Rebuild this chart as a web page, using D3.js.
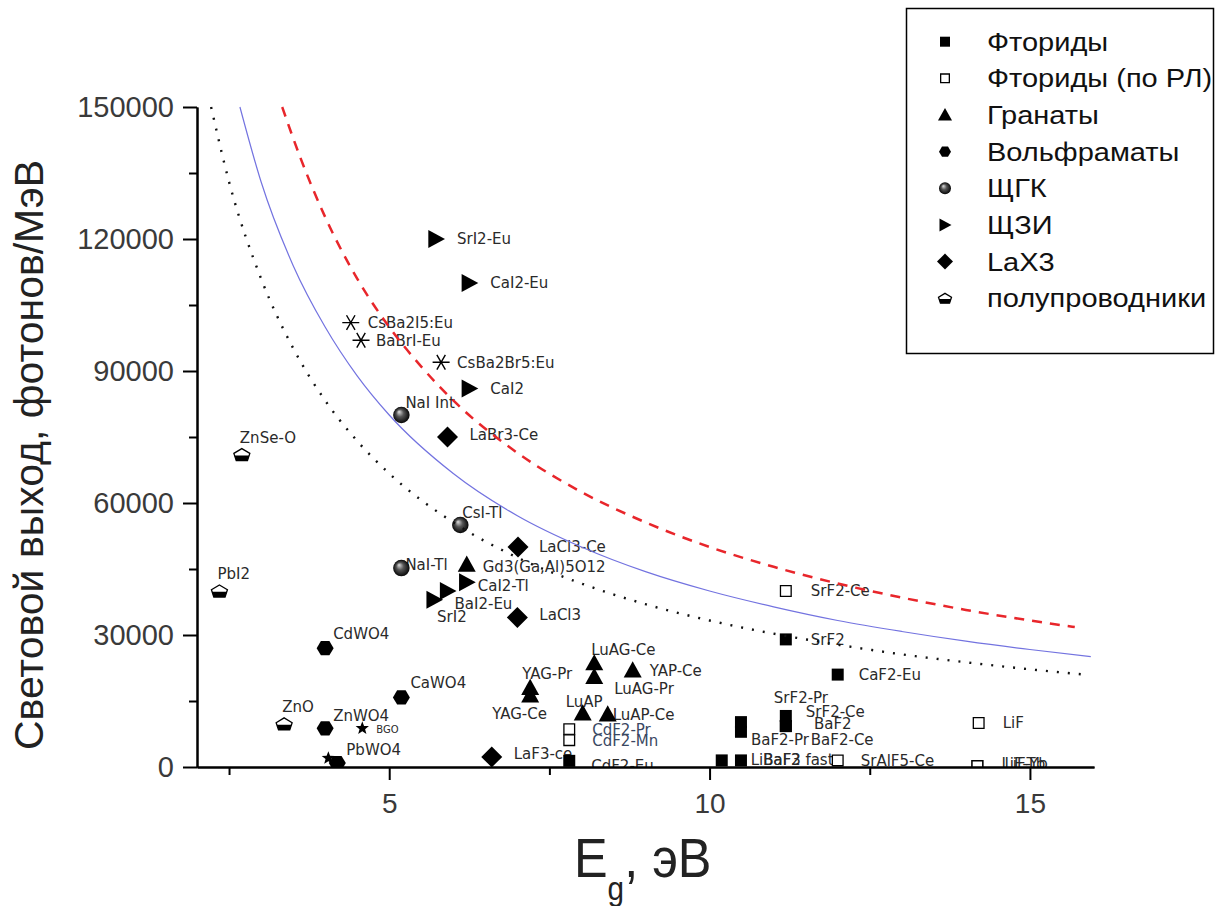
<!DOCTYPE html>
<html>
<head>
<meta charset="utf-8">
<script src="https://cdn.jsdelivr.net/npm/d3@7"></script>
<style>
  body { margin: 0; background: #fff; }
</style>
</head>
<body>
<div id="chart"></div>
<script>
// ---- data: [label, Eg (eV), light yield (photons/MeV)]
const fluorides = [
  ["SrF2", 11.19, 29000],
  ["CaF2-Eu", 12.0, 21000],
  ["SrF2-Pr", 11.19, 11600],
  ["SrF2-Ce", 11.19, 9300],
  ["BaF2-Ce", 11.19, 9300],
  ["BaF2", 10.49, 10200],
  ["BaF2-Pr", 10.49, 8000],
  ["LiBaF3", 10.19, 1500],
  ["BaF2 fast", 10.49, 1500],
  ["CdF2-Eu", 7.81, 1400]
];
const fluoridesRL = [
  ["SrF2-Ce", 11.19, 40000],
  ["CdF2-Pr", 7.81, 8600],
  ["CdF2-Mn", 7.81, 6100],
  ["SrAlF5-Ce", 12.0, 1500],
  ["LiF", 14.2, 10000],
  ["LiF-Tb", 14.18, 200],
  ["LiF-Yb", 14.18, 200]
];
const garnets = [
  ["Gd3(Ga,Al)5O12", 6.21, 46000],
  ["LuAG-Ce", 8.2, 23600],
  ["LuAG-Pr", 8.2, 20500],
  ["YAP-Ce", 8.8, 22000],
  ["YAG-Pr", 7.2, 18000],
  ["YAG-Ce", 7.2, 16300],
  ["LuAP", 8.02, 12200],
  ["LuAP-Ce", 8.41, 12000]
];
const tungstates = [
  ["CdWO4", 4.0, 27000],
  ["CaWO4", 5.19, 15800],
  ["ZnWO4", 4.0, 8800],
  ["PbWO4", 4.19, 900]
];
const alkaliHalides = [
  ["NaI Int", 5.19, 80000],
  ["CsI-Tl", 6.11, 55000],
  ["NaI-Tl", 5.19, 45200]
];
const earthIodides = [
  ["SrI2-Eu", 5.73, 120000],
  ["CaI2-Eu", 6.25, 110000],
  ["CaI2", 6.25, 86000],
  ["CaI2-Tl", 6.21, 42000],
  ["BaI2-Eu", 5.91, 40000],
  ["SrI2", 5.70, 38000]
];
const lanthanumHalides = [
  ["LaBr3-Ce", 5.91, 75000],
  ["LaCl3-Ce", 7.01, 50000],
  ["LaCl3", 7.0, 34000],
  ["LaF3-ce", 6.6, 2300]
];
const semiconductors = [
  ["ZnSe-O", 2.70, 71000],
  ["PbI2", 2.35, 40000],
  ["ZnO", 3.36, 9800]
];
const bromoIodides = [
  ["CsBa2I5:Eu", 4.40, 101000],
  ["BaBrI-Eu", 4.56, 97000],
  ["CsBa2Br5:Eu", 5.81, 92000]
];
const others = [
  ["BGO", 4.58, 8800],
  ["", 4.05, 2000]
];

// limit curves, points
const curveBeta2 = [[3.33,150000],[3.6,139000],[4,125000],[4.5,111000],[5,100000],[5.5,91000],[6,83300],[7,71400],[8,62500],[9,55600],[10,50000],[11,45500],[12,41700],[13,38500],[14,35700],[15,33300],[15.7,31800]];
const curveBeta25 = [[2.67,150000],[3,133000],[3.5,114000],[4,100000],[4.5,88900],[5,80000],[6,66700],[7,57100],[8,50000],[9,44400],[10,40000],[11,36400],[12,33300],[13,30800],[14,28600],[15,26700],[15.95,25100]];
const curveBeta3 = [[2.22,150000],[2.5,133000],[3,111000],[3.5,95200],[4,83300],[4.5,74100],[5,66700],[6,55600],[7,47600],[8,41700],[9,37000],[10,33300],[11,30300],[12,27800],[13,25600],[14,23800],[15,22200],[15.85,21000]];

const xMajor = [5, 10, 15];
const xMinor = [2.5, 7.5, 12.5];
const yMajor = [0, 30000, 60000, 90000, 120000, 150000];
const yMinor = [15000, 45000, 75000, 105000, 135000];

const legendNames = ["Фториды", "Фториды (по РЛ)", "Гранаты", "Вольфраматы", "ЩГК", "ЩЗИ", "LaX3", "полупроводники"];

const series = [
  { key: "fl",  symbol: "square",   size: 12, data: fluorides },
  { key: "flr", symbol: "open",     size: 12, data: fluoridesRL },
  { key: "gr",  symbol: "triangle", size: 18, data: garnets },
  { key: "w",   symbol: "hexagon",  size: 17, data: tungstates },
  { key: "ak",  symbol: "sphere",   size: 16.5, data: alkaliHalides },
  { key: "ae",  symbol: "right",    size: 18, data: earthIodides },
  { key: "la",  symbol: "diamond",  size: 21, data: lanthanumHalides },
  { key: "sc",  symbol: "semi",     size: 16, data: semiconductors },
  { key: "bb",  symbol: "asterisk", size: 17, data: bromoIodides },
  { key: "ot",  symbol: "star",     size: 14, data: others }
];
const legendSymbols = ["square", "open", "triangle", "hexagon", "sphere", "right", "diamond", "semi"];
const legendSizes = [10, 10, 14, 12, 12, 13, 16, 13];

// label placement relative to the marker: [dx, dy] (default [21, 0])
const labelOffsets = {
  "ak|NaI Int": [4, -12], "sc|ZnSe-O": [-2, -17], "ak|CsI-Tl": [2, -12], "ak|NaI-Tl": [4, -4],
  "gr|Gd3(Ga,Al)5O12": [16, 2], "ae|CaI2-Tl": [11, 3], "ae|BaI2-Eu": [7, 13], "ae|SrI2": [3, 17],
  "la|LaCl3": [22, -3], "sc|PbI2": [-2, -17], "w|CdWO4": [8, -15], "w|CaWO4": [9, -15],
  "sc|ZnO": [-2, -17], "w|ZnWO4": [8, -13], "ot|BGO": [14, 1], "w|PbWO4": [9, -13],
  "la|LaF3-ce": [22, -3], "gr|YAG-Pr": [-8, -14], "gr|YAG-Ce": [-38, 18], "gr|LuAG-Ce": [-3, -14],
  "gr|LuAG-Pr": [20, 12], "gr|YAP-Ce": [17, 0], "gr|LuAP": [-17, -12], "gr|LuAP-Ce": [5, 0],
  "flr|CdF2-Pr": [23, 0], "flr|CdF2-Mn": [23, 0], "fl|CdF2-Eu": [22, 5],
  "flr|SrF2-Ce": [25, 0], "fl|SrF2": [25, 0], "fl|SrF2-Pr": [-12, -18], "fl|SrF2-Ce": [20, -14],
  "fl|BaF2-Ce": [25, 14], "fl|BaF2": [73, 1], "fl|BaF2-Pr": [10, 8], "fl|LiBaF3": [29, -1],
  "fl|BaF2 fast": [22, -1], "flr|SrAlF5-Ce": [23, 0], "flr|LiF": [24, 0],
  "flr|LiF-Tb": [24, -3], "flr|LiF-Yb": [27, -3],
  "bb|CsBa2I5:Eu": [17, 0], "bb|BaBrI-Eu": [15, 0], "bb|CsBa2Br5:Eu": [16, 0], "la|LaBr3-Ce": [22, -2]
};

const width = 1227, height = 906;
const x = d3.scaleLinear().domain([2, 16]).range([197, 1094]);
const y = d3.scaleLinear().domain([0, 150000]).range([767, 107]);

const svg = d3.select("#chart").append("svg")
  .attr("width", width).attr("height", height)
  .style("font-family", "'Liberation Sans', Arial, sans-serif");

svg.append("rect").attr("width", width).attr("height", height).attr("fill", "#fff");

const defs = svg.append("defs");
const grad = defs.append("radialGradient").attr("id", "sph")
  .attr("cx", "50%").attr("cy", "50%").attr("r", "50%").attr("fx", "35%").attr("fy", "30%");
grad.append("stop").attr("offset", "0%").attr("stop-color", "#e0e0e0");
grad.append("stop").attr("offset", "45%").attr("stop-color", "#555");
grad.append("stop").attr("offset", "100%").attr("stop-color", "#050505");
defs.append("clipPath").attr("id", "plotClip").append("rect")
  .attr("x", x(2)).attr("y", 0).attr("width", width - x(2)).attr("height", y(0));

function symbolPath(type, s) {
  const h = s / 2;
  if (type === "square") return `M${-h},${-h}H${h}V${h}H${-h}Z`;
  if (type === "triangle") return `M0,${-h}L${h},${h * 0.8}L${-h},${h * 0.8}Z`;
  if (type === "right") return `M${-h * 0.85},${-h}L${h},0L${-h * 0.85},${h}Z`;
  if (type === "diamond") return `M0,${-h}L${h},0L0,${h}L${-h},0Z`;
  if (type === "hexagon") {
    const pts = d3.range(6).map(i => [h * Math.cos(i * Math.PI / 3), h * 0.97 * Math.sin(i * Math.PI / 3)]);
    return "M" + pts.map(p => p.join(",")).join("L") + "Z";
  }
  if (type === "star") {
    const pts = d3.range(10).map(i => {
      const r = i % 2 ? h * 0.42 : h;
      const a = -Math.PI / 2 + i * Math.PI / 5;
      return [r * Math.cos(a), r * Math.sin(a)];
    });
    return "M" + pts.map(p => p.join(",")).join("L") + "Z";
  }
  if (type === "asterisk") {
    return d3.range(3).map(i => {
      const a = i * Math.PI / 3;
      const dx = h * Math.cos(a), dy = h * Math.sin(a);
      return `M${-dx},${-dy}L${dx},${dy}`;
    }).join("");
  }
  return "";
}

function drawMarker(sel, type, s) {
  const h = s / 2;
  if (type === "sphere") {
    sel.append("circle").attr("r", h).attr("fill", "url(#sph)");
  } else if (type === "semi") {
    sel.append("path")
      .attr("d", `M0,${-0.75 * h}L${h},${-0.15 * h}L${0.7 * h},${0.75 * h}L${-0.7 * h},${0.75 * h}L${-h},${-0.15 * h}Z`)
      .attr("fill", "#fff").attr("stroke", "#000").attr("stroke-width", 1.3);
    sel.append("path")
      .attr("d", `M${0.92 * h},${0.1 * h}L${0.7 * h},${0.75 * h}L${-0.7 * h},${0.75 * h}L${-0.92 * h},${0.1 * h}Z`)
      .attr("fill", "#000");
  } else if (type === "open") {
    sel.append("path").attr("d", symbolPath("square", s - 1.3))
      .attr("fill", "#fff").attr("stroke", "#000").attr("stroke-width", 1.3);
  } else if (type === "asterisk") {
    sel.append("path").attr("d", symbolPath("asterisk", s))
      .attr("fill", "none").attr("stroke", "#000").attr("stroke-width", 1.4);
  } else {
    sel.append("path").attr("d", symbolPath(type, s)).attr("fill", "#000");
  }
}

const plot = svg.append("g").attr("clip-path", "url(#plotClip)");

// labels
const labelLayer = plot.append("g");
series.forEach(s => {
  s.data.forEach(d => {
    if (!d[0]) return;
    const off = labelOffsets[s.key + "|" + d[0]] || [21, 0];
    const isCd = d[0] === "CdF2-Pr" || d[0] === "CdF2-Mn";
    labelLayer.append("text")
      .attr("x", x(d[1]) + off[0])
      .attr("y", y(d[2]) + off[1])
      .attr("dy", "0.36em")
      .style("font-family", "'DejaVu Sans', Verdana, sans-serif")
      .style("font-size", d[0] === "BGO" ? "10px" : "15px")
      .attr("fill", isCd ? "#3a4862" : "#2a2a2a")
      .text(d[0]);
  });
});

// markers
const markerLayer = plot.append("g");
series.forEach(s => {
  s.data.forEach(d => {
    const g = markerLayer.append("g").attr("transform", `translate(${x(d[1])},${y(d[2])})`);
    drawMarker(g, s.symbol, s.size);
  });
});

// curves
const line = d3.line().x(d => x(d[0])).y(d => y(d[1])).curve(d3.curveMonotoneX);
plot.append("path").datum(curveBeta25).attr("d", line)
  .attr("fill", "none").attr("stroke", "#7373e0").attr("stroke-width", 1.2);
plot.append("path").datum(curveBeta3).attr("d", line)
  .attr("fill", "none").attr("stroke", "#111").attr("stroke-width", 2.4)
  .attr("stroke-dasharray", "2 9").attr("stroke-linecap", "butt");
plot.append("path").datum(curveBeta2).attr("d", line)
  .attr("fill", "none").attr("stroke", "#e8262b").attr("stroke-width", 2.5)
  .attr("stroke-dasharray", "10 8");

// axes
function styleAxis(g) {
  g.select(".domain").attr("stroke", "#000").attr("stroke-width", 2);
  g.selectAll(".tick line").attr("stroke", "#000").attr("stroke-width", 2);
  g.selectAll(".tick text").attr("fill", "#3a3a3a").style("font-size", "28px")
    .style("font-family", "'Liberation Sans', Arial, sans-serif");
}
const xAxisMinor = svg.append("g").attr("transform", `translate(0,${y(0)})`)
  .call(d3.axisBottom(x).tickValues(xMinor).tickSize(8).tickSizeOuter(0).tickFormat(""));
styleAxis(xAxisMinor);
const xAxis = svg.append("g").attr("transform", `translate(0,${y(0)})`)
  .call(d3.axisBottom(x).tickValues(xMajor).tickSize(13).tickSizeOuter(0).tickPadding(13).tickFormat(d3.format("d")));
styleAxis(xAxis);

const yAxisMinor = svg.append("g").attr("transform", `translate(${x(2)},0)`)
  .call(d3.axisLeft(y).tickValues(yMinor).tickSize(8).tickSizeOuter(0).tickFormat(""));
styleAxis(yAxisMinor);
const yAxis = svg.append("g").attr("transform", `translate(${x(2)},0)`)
  .call(d3.axisLeft(y).tickValues(yMajor).tickSize(14).tickSizeOuter(0).tickPadding(9).tickFormat(d3.format("d")));
styleAxis(yAxis);
yAxis.selectAll(".tick text").style("font-size", "29px");

// axis titles
svg.append("text")
  .attr("transform", "translate(43,455) rotate(-90)")
  .attr("text-anchor", "middle")
  .attr("textLength", 590).attr("lengthAdjust", "spacingAndGlyphs")
  .style("font-size", "40px").attr("fill", "#222")
  .text("Световой выход, фотонов/МэВ");

const xt = svg.append("text")
  .attr("transform", "translate(574,877) scale(0.9,1)")
  .style("font-size", "56px").attr("fill", "#222");
xt.append("tspan").text("E");
xt.append("tspan").attr("dy", 23).style("font-size", "33px").text("g");
xt.append("tspan").attr("dy", -23).text(", эВ");

// legend
const legend = svg.append("g");
legend.append("rect").attr("x", 906.5).attr("y", 8.5).attr("width", 307).attr("height", 345)
  .attr("fill", "#fff").attr("stroke", "#000").attr("stroke-width", 1.5);
legendNames.forEach((name, i) => {
  const cy = 41.7 + i * 36.65;
  const g = legend.append("g").attr("transform", `translate(945,${cy})`);
  drawMarker(g, legendSymbols[i], legendSizes[i]);
  legend.append("text")
    .attr("transform", `translate(987,${cy}) scale(1.16,1)`)
    .attr("dy", "0.36em")
    .style("font-size", "25px").attr("fill", "#111")
    .text(name);
});
</script>
</body>
</html>
